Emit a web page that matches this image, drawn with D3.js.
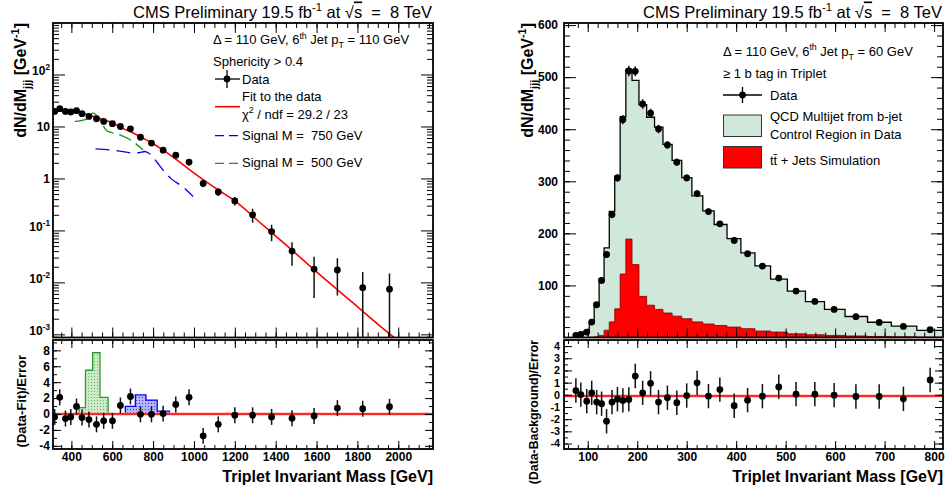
<!DOCTYPE html>
<meta charset="utf-8">
<style>
body { margin: 0; background: #fff; }
text { font-family: "Liberation Sans", Arial, Helvetica, sans-serif; fill: #000; }
.axis .domain { display: none; }
.axis line { stroke: #000; stroke-width: 1; }
.axis text { font-size: 12px; font-weight: bold; }
.small .axis text { font-size: 10.8px; }
.title { font-size: 16.5px; white-space: pre; }
.atitle { font-size: 16px; font-weight: bold; }
.ptitle { font-size: 13px; font-weight: bold; }
.ptitle2 { font-size: 12.3px; font-weight: bold; }
.leg { font-size: 13px; white-space: pre; }
</style>
<svg width="947" height="490"></svg>
<script src="https://d3js.org/d3.v7.min.js"></script>
<script>
// ---------- left: fit to the data ----------
const leftMass = [318, 343, 371, 397, 425, 452, 486, 523, 558, 601, 640, 689, 738, 792, 849, 911, 976,
  1045, 1119, 1200, 1287, 1380, 1480, 1588, 1702, 1826, 1957];
const leftRate = [19.5, 22, 19.5, 19, 20.1, 17.6, 15.6, 14.1, 12.5, 11.3, 10, 9.0, 6.2, 4.8, 3.5, 2.8, 2.07,
  0.80, 0.55, 0.37, 0.20, 0.095, 0.040, 0.018, 0.0173, 0.0079, 0.0074];
const leftRateErr = [1.0, 1.2, 1.1, 1.0, 1.0, 0.95, 0.9, 0.85, 0.8, 0.75, 0.7, 0.65, 0.55, 0.48, 0.4, 0.35, 0.3,
  0.11, 0.09, 0.07, 0.06, 0.033, 0.019, 0.013, 0.0117, 0.008, 0.0074];
const leftPull = [-0.37, 2.1, -0.57, -0.37, 0.95, -0.45, -0.7, -1.3, -0.86, -0.86, 1.07, 2.2, -0.04, -0.04, 0.05,
  1.2, 2.1, -2.75, -1.3, -0.16, -0.16, -0.37, -0.53, -0.25, 0.74, 0.66, 0.91];

const fitMass = [318, 343, 371, 397, 425, 452, 486, 523, 558, 601, 640, 689, 738, 792, 849, 911, 976,
  1045, 1119, 1200, 1323, 1470, 1617, 1764, 1911, 2000];
const fitRate = [20, 20.1, 20, 19.6, 19.2, 18.1, 16.5, 15.1, 13.3, 11.8, 9.6, 8.0, 6.3, 4.85, 3.5, 2.35, 1.5,
  0.95, 0.6, 0.37, 0.142, 0.045, 0.0139, 0.0045, 0.00144, 0.00075];

const sig750Mass = [518, 588, 653, 700, 735, 759, 784, 818, 857, 891, 941, 996];
const sig750Rate = [3.70, 3.54, 3.28, 3.09, 3.16, 3.30, 2.96, 2.07, 1.33, 0.97, 0.71, 0.45];
const sig500Mass = [416, 474, 490, 506, 519, 539, 572, 602, 637, 702, 751];
const sig500Rate = [12.5, 13.9, 15.4, 18.2, 16.9, 13.5, 8.4, 7.5, 6.9, 5.1, 3.53];

const sig500Edges = [438, 469, 504, 540, 580];
const sig500Pull = [0.8, 5.5, 7.7, 2.1];
const sig750Edges = [664, 713, 765, 820, 880];
const sig750Pull = [0.95, 2.4, 1.75, 0.35];

// ---------- right: b-tagged triplets ----------
const rightEdges = [71, 81, 92, 103, 113, 123, 133, 143.5, 154.5, 165.5, 177, 189.5, 203.5, 219, 235, 252, 270.5,
  290, 310.5, 332.5, 355.5, 381.5, 409.5, 438, 469.5, 503.5, 540, 578.5, 620, 665.5, 713.5, 765, 820];
const rightMass = [76, 86, 98, 108, 118, 128, 138, 149, 160, 171, 183, 196, 211, 227, 243, 261, 280, 300, 321,
  344, 367, 396, 423, 453, 486, 521, 559, 598, 642, 689, 738, 792];
const rightData = [4, 6, 10.5, 29.7, 62.9, 109.5, 159.4, 236.1, 306.5, 418.4, 511.8, 511.2, 448.5, 430.7, 400.5,
  369.8, 336.7, 306.5, 276.4, 241.9, 218.3, 186.3, 160.8, 137.2, 114.1, 89.2, 69.2, 53.9, 39.9, 29.0, 21.3, 15.0];
const rightDataErr = [1, 1.5, 2, 3, 4, 5, 6, 7, 7.5, 9, 10, 9.5, 9, 8.5, 8, 7.5, 7, 6.5, 6, 5.5, 5, 4.5, 4, 3.7,
  3.3, 2.9, 2.5, 2.2, 1.9, 1.6, 1.3, 1.1];
const qcdTotal = [3.5, 6, 12, 29, 66, 113, 172, 242, 310, 424, 515, 494, 447, 423, 404, 371, 340, 307, 272, 243,
  217, 190, 162.5, 137.5, 112, 89, 69, 54, 40.3, 29.3, 21.8, 13.5];
const ttbarHist = [0, 0, 0, 0.5, 1.5, 4, 14, 30, 55, 122, 189, 140, 79, 62, 54, 47, 41, 36, 30, 26, 23, 20, 17,
  12.5, 10.5, 7, 5.4, 4, 3, 2, 1.5, 1];
const rightPull = [0.35, 0.02, -0.52, 0.16, -0.6, -0.73, -2.17, -0.6, -0.36, -0.46, -0.38, 1.54, 0.16, 0.94, -0.6,
  -0.24, -0.65, -0.06, 0.98, -0.11, 0.43, -0.9, -0.44, -0.11, 0.65, 0.05, 0.05, -0.03, -0.14, -0.14, -0.33, 1.22];
const rightZero = -0.1;

const leftXTicks = [400, 600, 800, 1000, 1200, 1400, 1600, 1800, 2000];
const rightXTicks = [100, 200, 300, 400, 500, 600, 700, 800];
const leftLogTicks = [1e-3, 1e-2, 1e-1, 1, 10, 100];
const leftPullTicks = [-4, -2, 0, 2, 4, 6, 8];
const rightYTicks = [100, 200, 300, 400, 500, 600];
const rightPullTicks = [-4, -3, -2, -1, 0, 1, 2, 3, 4];

// ---------- layout ----------
const upTop = 23, upBot = 337.5, loTop = 340, loBot = 449;

const xL = d3.scaleLinear().domain([310, 2170]).range([53, 433]);
const yLup = d3.scaleLog().domain([8.7e-4, 980]).range([upBot, upTop]);
const yLlo = d3.scaleLinear().domain([-4.4, 9.3]).range([loBot, loTop]);

const xR = d3.scaleLinear().domain([52, 818]).range([564, 943]);
const yRup = d3.scaleLinear().domain([0, 604]).range([upBot, upTop]);
const yRlo = d3.scaleLinear().domain([-4.45, 4.5]).range([loBot, loTop]);

const svg = d3.select("svg");
const defs = svg.append("defs");

function dots(id, bg, dot) {
  const p = defs.append("pattern").attr("id", id).attr("width", 3).attr("height", 3)
    .attr("patternUnits", "userSpaceOnUse");
  p.append("rect").attr("width", 3).attr("height", 3).attr("fill", bg);
  p.append("rect").attr("x", 1).attr("y", 1).attr("width", 1).attr("height", 1).attr("fill", dot);
}
dots("dotG", "#cfeacb", "#5cb85c");
dots("dotB", "#b5b5f7", "#3535e6");

function clipFor(id, x, y) {
  defs.append("clipPath").attr("id", id).append("rect")
    .attr("x", x.range()[0]).attr("y", y.range()[1])
    .attr("width", x.range()[1] - x.range()[0]).attr("height", y.range()[0] - y.range()[1]);
  return svg.append("g").attr("clip-path", "url(#" + id + ")");
}

// text with super/subscripts: parts = [[string, kind]]
function rich(t, parts, fs) {
  let shift = 0;
  parts.forEach(([s, k]) => {
    const target = k === "sup" ? -0.42 * fs : k === "sub" ? 0.32 * fs : 0;
    const ts = t.append("tspan").attr("dy", target - shift).text(s);
    if (k === "sup" || k === "sub") ts.attr("font-size", (fs * 0.68).toFixed(1));
    if (k === "ov") ts.style("text-decoration", "overline");
    shift = target;
  });
  return t;
}

function frame(x, y, o) {
  const g = svg.append("g").attr("class", o.cls || null);
  const [yb, yt] = y.range(), [xl, xr] = x.range();
  const add = (axis, tx, ty) => g.append("g").attr("class", "axis")
    .attr("transform", `translate(${tx},${ty})`).call(axis);
  const none = () => "";
  add(d3.axisBottom(x).tickValues(o.xMinor).tickSize(-o.xLen[1]).tickFormat(none), 0, yb);
  add(d3.axisTop(x).tickValues(o.xMinor).tickSize(-o.xLen[1]).tickFormat(none), 0, yt);
  add(d3.axisTop(x).tickValues(o.xMajor).tickSize(-o.xLen[0]).tickFormat(none), 0, yt);
  add(d3.axisBottom(x).tickValues(o.xMajor).tickSize(-o.xLen[0])
    .tickFormat(o.xLabels ? (d => String(d)) : none).tickPadding(3.5), 0, yb)
    .selectAll("text").style("font-size", o.xLabels ? "12px" : null);
  add(d3.axisLeft(y).tickValues(o.yMinor).tickSize(-o.yLen[1]).tickFormat(none), xl, 0);
  add(d3.axisRight(y).tickValues(o.yMinor).tickSize(-o.yLen[1]).tickFormat(none), xr, 0);
  add(d3.axisRight(y).tickValues(o.yMajor).tickSize(-o.yLen[0]).tickFormat(none), xr, 0);
  const yl = add(d3.axisLeft(y).tickValues(o.yMajor).tickSize(-o.yLen[0])
    .tickFormat(o.yFmt || (d => String(d))).tickPadding(o.yPad), xl, 0);
  g.append("rect").attr("x", xl).attr("y", yt).attr("width", xr - xl).attr("height", yb - yt)
    .attr("fill", "none").attr("stroke", "#000").attr("stroke-width", 1.8);
  return yl;
}

function dataPoints(g, xs, ys, xv, yv, lo, hi) {
  g.selectAll(null).data(xv).enter().append("line")
    .attr("x1", d => xs(d)).attr("x2", d => xs(d))
    .attr("y1", (d, i) => ys(lo(i))).attr("y2", (d, i) => ys(hi(i)))
    .attr("stroke", "#111").attr("stroke-width", 1.5);
  g.selectAll(null).data(xv).enter().append("circle")
    .attr("cx", d => xs(d)).attr("cy", (d, i) => ys(yv[i])).attr("r", 3.4).attr("fill", "#000");
}

function stepPts(edges, vals) {
  const pts = edges.map((e, i) => [e, vals[Math.min(i, vals.length - 1)]]);
  return [[edges[0], 0]].concat(pts, [[edges[edges.length - 1], 0]]);
}

// ===== left upper =====
const gLU = clipFor("cLU", xL, yLup);
const logLine = d3.line().x(d => xL(d[0])).y(d => yLup(d[1])).curve(d3.curveMonotoneX);
gLU.append("path").datum(sig750Mass.map((m, i) => [m, sig750Rate[i]])).attr("d", logLine)
  .attr("fill", "none").attr("stroke", "#0000ff").attr("stroke-width", 1.3).attr("stroke-dasharray", "14,7");
gLU.append("path").datum(sig500Mass.map((m, i) => [m, sig500Rate[i]])).attr("d", logLine)
  .attr("fill", "none").attr("stroke", "#1e961e").attr("stroke-width", 1.3).attr("stroke-dasharray", "13,6");
gLU.append("path").datum(fitMass.map((m, i) => [m, fitRate[i]])).attr("d", logLine)
  .attr("fill", "none").attr("stroke", "#ff0000").attr("stroke-width", 1.6);
const floorL = yLup.domain()[0];
dataPoints(gLU, xL, yLup, leftMass, leftRate,
  i => Math.max(leftRate[i] - leftRateErr[i], floorL * 0.9), i => leftRate[i] + leftRateErr[i]);

// ===== left lower =====
const gLL = clipFor("cLL", xL, yLlo);
const pullArea = (x, y) => d3.area().curve(d3.curveStepAfter).x(d => x(d[0])).y0(y(0)).y1(d => y(d[1]));
const pullLine = (x, y) => d3.line().curve(d3.curveStepAfter).x(d => x(d[0])).y(d => y(d[1]));
gLL.append("path").datum(stepPts(sig500Edges, sig500Pull)).attr("d", pullArea(xL, yLlo)).attr("fill", "url(#dotG)");
gLL.append("path").datum(stepPts(sig500Edges, sig500Pull)).attr("d", pullLine(xL, yLlo))
  .attr("fill", "none").attr("stroke", "#2a9a2a").attr("stroke-width", 1.3);
gLL.append("path").datum(stepPts(sig750Edges, sig750Pull)).attr("d", pullArea(xL, yLlo)).attr("fill", "url(#dotB)");
gLL.append("path").datum(stepPts(sig750Edges, sig750Pull)).attr("d", pullLine(xL, yLlo))
  .attr("fill", "none").attr("stroke", "#0000ff").attr("stroke-width", 1.3);
gLL.append("line").attr("x1", xL.range()[0]).attr("x2", xL.range()[1]).attr("y1", yLlo(0)).attr("y2", yLlo(0))
  .attr("stroke", "#f6a5a5").attr("stroke-width", 3);
gLL.append("line").attr("x1", xL.range()[0]).attr("x2", xL.range()[1]).attr("y1", yLlo(0)).attr("y2", yLlo(0))
  .attr("stroke", "#ff0000").attr("stroke-width", 1.3);
dataPoints(gLL, xL, yLlo, leftMass, leftPull, i => leftPull[i] - 1, i => leftPull[i] + 1);

// ===== right upper =====
const gRU = clipFor("cRU", xR, yRup);
const histArea = d3.area().curve(d3.curveStepAfter).x(d => xR(d[0])).y0(yRup(0)).y1(d => yRup(d[1]));
const histLine = d3.line().curve(d3.curveStepAfter).x(d => xR(d[0])).y(d => yRup(d[1]));
gRU.append("path").datum(stepPts(rightEdges, qcdTotal)).attr("d", histArea).attr("fill", "#d0e8da");
gRU.append("path").datum(stepPts(rightEdges, ttbarHist)).attr("d", histArea).attr("fill", "#ff0000")
  .attr("stroke", "#7a0000").attr("stroke-width", 0.8);
gRU.append("path").datum(stepPts(rightEdges, qcdTotal)).attr("d", histLine)
  .attr("fill", "none").attr("stroke", "#000").attr("stroke-width", 1.3);
dataPoints(gRU, xR, yRup, rightMass, rightData,
  i => Math.max(rightData[i] - rightDataErr[i], 0), i => rightData[i] + rightDataErr[i]);

// ===== right lower =====
const gRL = clipFor("cRL", xR, yRlo);
gRL.append("line").attr("x1", xR.range()[0]).attr("x2", xR.range()[1]).attr("y1", yRlo(rightZero)).attr("y2", yRlo(rightZero))
  .attr("stroke", "#f6a5a5").attr("stroke-width", 3);
gRL.append("line").attr("x1", xR.range()[0]).attr("x2", xR.range()[1]).attr("y1", yRlo(rightZero)).attr("y2", yRlo(rightZero))
  .attr("stroke", "#ff0000").attr("stroke-width", 1.3);
dataPoints(gRL, xR, yRlo, rightMass, rightPull, i => rightPull[i] - 1, i => rightPull[i] + 1);

// ===== frames and axes =====
const logMinor = [];
[-4, -3, -2, -1, 0, 1, 2].forEach(p => d3.range(2, 10).forEach(k => {
  const v = k * Math.pow(10, p);
  if (v > yLup.domain()[0] && v < yLup.domain()[1]) logMinor.push(v);
}));
const yLog = frame(xL, yLup, {
  xMajor: leftXTicks, xMinor: d3.range(350, 2170, 50), xLen: [10, 5],
  yMajor: leftLogTicks, yMinor: logMinor, yLen: [12, 6], yPad: 3, yFmt: () => ""
});
yLog.selectAll(".tick text").each(function (d) {
  const t = d3.select(this), e = Math.round(Math.log10(d));
  if (e === 0) t.text("1");
  else if (e === 1) t.text("10");
  else rich(t, [["10", ""], [String(e), "sup"]], 12);
});
frame(xL, yLlo, {
  xMajor: leftXTicks, xMinor: d3.range(350, 2170, 50), xLen: [8, 4], xLabels: true,
  yMajor: leftPullTicks, yMinor: d3.range(-4, 10, 1), yLen: [8, 4], yPad: 3
});
frame(xR, yRup, {
  xMajor: rightXTicks, xMinor: d3.range(60, 818, 20), xLen: [9, 5],
  yMajor: rightYTicks, yMinor: d3.range(20, 604, 20), yLen: [12, 6], yPad: 6
});
frame(xR, yRlo, {
  cls: "small",
  xMajor: rightXTicks, xMinor: d3.range(60, 818, 20), xLen: [8, 4], xLabels: true,
  yMajor: rightPullTicks, yMinor: d3.range(-4, 4.6, 0.5), yLen: [8, 4], yPad: 4
});

// ===== titles =====
const titleParts = [["CMS Preliminary 19.5 fb", ""], ["-1", "sup"], [" at ", ""], ["\u221A", ""], ["s", "ov"], ["  =  8 TeV", ""]];
rich(svg.append("text").attr("class", "title").attr("x", 432).attr("y", 17.5).attr("text-anchor", "end"), titleParts, 16.5);
rich(svg.append("text").attr("class", "title").attr("x", 942).attr("y", 17.5).attr("text-anchor", "end"), titleParts, 16.5);

const yTitle = [["dN/dM", ""], ["jjj", "sub"], [" [GeV", ""], ["-1", "sup"], ["]", ""]];
rich(svg.append("text").attr("class", "atitle").attr("text-anchor", "end")
  .attr("transform", "translate(26,23) rotate(-90)"), yTitle, 16);
rich(svg.append("text").attr("class", "atitle").attr("text-anchor", "end")
  .attr("transform", "translate(533,23) rotate(-90)"), yTitle, 16);

svg.append("text").attr("class", "ptitle").attr("text-anchor", "end")
  .attr("transform", "translate(26,355) rotate(-90)").text("(Data-Fit)/Error");
svg.append("text").attr("class", "ptitle2").attr("text-anchor", "end")
  .attr("transform", "translate(538,340) rotate(-90)").text("(Data-Background)/Error");

svg.append("text").attr("class", "atitle").attr("x", 433).attr("y", 482).attr("text-anchor", "end")
  .text("Triplet Invariant Mass [GeV]");
svg.append("text").attr("class", "atitle").attr("x", 943).attr("y", 482).attr("text-anchor", "end")
  .text("Triplet Invariant Mass [GeV]");

// ===== left legend =====
rich(svg.append("text").attr("class", "leg").attr("x", 213).attr("y", 44),
  [["\u0394 = 110 GeV, 6", ""], ["th", "sup"], [" Jet p", ""], ["T", "sub"], [" = 110 GeV", ""]], 13);
svg.append("text").attr("class", "leg").attr("x", 213).attr("y", 66).text("Sphericity > 0.4");
const legL = svg.append("g");
legL.append("line").attr("x1", 215).attr("x2", 240).attr("y1", 79).attr("y2", 79).attr("stroke", "#000").attr("stroke-width", 1.3);
legL.append("line").attr("x1", 227).attr("x2", 227).attr("y1", 70).attr("y2", 88).attr("stroke", "#000").attr("stroke-width", 1.3);
legL.append("circle").attr("cx", 227).attr("cy", 79).attr("r", 3.4).attr("fill", "#000");
legL.append("text").attr("class", "leg").attr("x", 242).attr("y", 83.5).text("Data");
legL.append("line").attr("x1", 215).attr("x2", 240).attr("y1", 106.7).attr("y2", 106.7).attr("stroke", "#ff0000").attr("stroke-width", 1.6);
legL.append("text").attr("class", "leg").attr("x", 242).attr("y", 101).text("Fit to the data");
rich(legL.append("text").attr("class", "leg").attr("x", 242).attr("y", 118.5),
  [["\u03C7", ""], ["2", "sup"], [" / ndf = 29.2 / 23", ""]], 13);
legL.append("line").attr("x1", 215).attr("x2", 240).attr("y1", 135.7).attr("y2", 135.7).attr("stroke", "#0000ff")
  .attr("stroke-width", 1.3).attr("stroke-dasharray", "9,5");
legL.append("text").attr("class", "leg").attr("x", 242).attr("y", 139.5).text("Signal M =  750 GeV");
legL.append("line").attr("x1", 215).attr("x2", 240).attr("y1", 163.3).attr("y2", 163.3).attr("stroke", "#1e961e")
  .attr("stroke-width", 1.3).attr("stroke-dasharray", "9,5");
legL.append("text").attr("class", "leg").attr("x", 242).attr("y", 167).text("Signal M =  500 GeV");

// ===== right legend =====
rich(svg.append("text").attr("class", "leg").attr("x", 723).attr("y", 55.5),
  [["\u0394 = 110 GeV, 6", ""], ["th", "sup"], [" Jet p", ""], ["T", "sub"], [" = 60 GeV", ""]], 13);
svg.append("text").attr("class", "leg").attr("x", 723).attr("y", 77.5).text("\u2265 1 b tag in Triplet");
const legR = svg.append("g");
legR.append("line").attr("x1", 723).attr("x2", 762).attr("y1", 95).attr("y2", 95).attr("stroke", "#000").attr("stroke-width", 1.3);
legR.append("line").attr("x1", 742.5).attr("x2", 742.5).attr("y1", 87).attr("y2", 103).attr("stroke", "#000").attr("stroke-width", 1.3);
legR.append("circle").attr("cx", 742.5).attr("cy", 95).attr("r", 3.4).attr("fill", "#000");
legR.append("text").attr("class", "leg").attr("x", 770).attr("y", 100).text("Data");
legR.append("rect").attr("x", 723.5).attr("y", 115).attr("width", 38).attr("height", 21.5)
  .attr("fill", "#d0e8da").attr("stroke", "#333").attr("stroke-width", 1);
legR.append("text").attr("class", "leg").attr("x", 770).attr("y", 121).text("QCD Multijet from b-jet");
legR.append("text").attr("class", "leg").attr("x", 770).attr("y", 138.5).text("Control Region in Data");
legR.append("rect").attr("x", 723.5).attr("y", 146.5).attr("width", 38).attr("height", 21.5)
  .attr("fill", "#ff0000").attr("stroke", "#333").attr("stroke-width", 1);
legR.append("text").attr("class", "leg").attr("x", 770).attr("y", 165).text("tt\u0304 + Jets Simulation");
</script>
